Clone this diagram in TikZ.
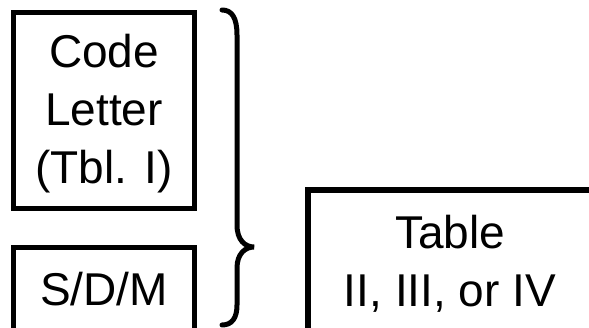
\documentclass[tikz,border=0pt]{standalone}
\usepackage{fontspec}
\setmainfont{Liberation Sans}
\begin{document}
\begin{tikzpicture}[x=1pt,y=-1pt,
  boxline/.style={draw=black,line width=5pt,inner sep=0pt,outer sep=0pt},
  lbl/.style={font=\fontsize{46pt}{58pt}\selectfont,align=center,inner sep=0pt,anchor=base}]
\useasboundingbox (0,0) rectangle (589,328);
\clip (0,0) rectangle (589,328);
\node[boxline,minimum width=181pt,minimum height=196pt] (box1) at (104,110.5) {};
\node[boxline,minimum width=181pt,minimum height=90pt] (box2) at (104,292.5) {};
\node[boxline,line width=6pt,minimum width=285pt,minimum height=150pt] (box3) at (450,265) {};
\node[lbl] (t1) at (104,184) {Code\\Letter\\(Tbl. I)};
\node[lbl] (t2) at (104,306) {S/D/M};
\node[lbl] (t3) at (450,307) {Table\\II, III, or IV};
\draw[line width=5pt,line cap=round] (222,10) .. controls (232,10) and (237,18) .. (237,35) -- (237,225)
  .. controls (237,240) and (245,247) .. (254,247)
  .. controls (245,247) and (237,254) .. (237,268) -- (237,305)
  .. controls (237,318) and (232,325) .. (222,325);
\end{tikzpicture}
\end{document}
